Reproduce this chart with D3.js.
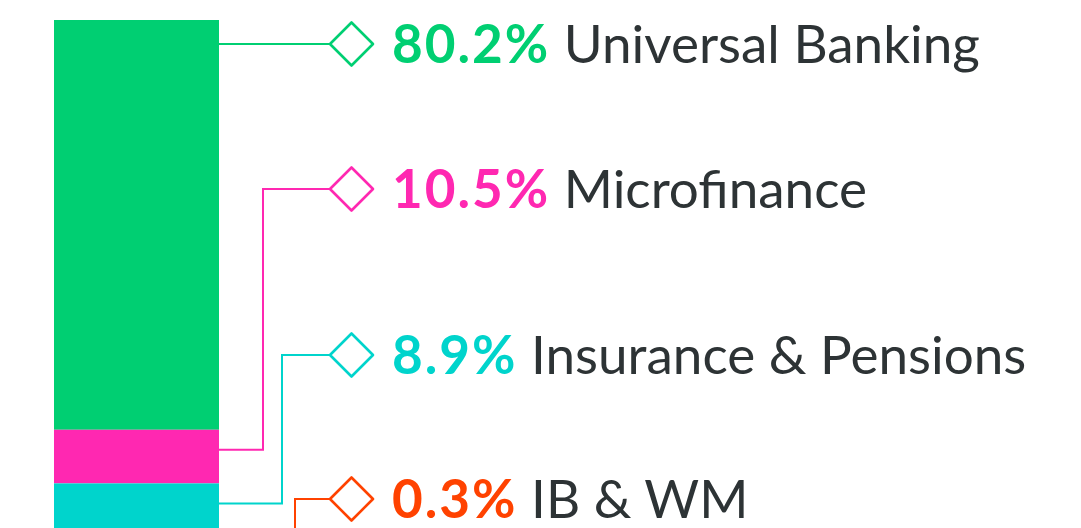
<!DOCTYPE html>
<html>
<head>
<meta charset="utf-8">
<script src="https://cdn.jsdelivr.net/npm/d3@7"></script>
<style>
  html, body { margin: 0; padding: 0; background: #fff; }
  svg { display: block; }
</style>
</head>
<body>
<svg id="chart" width="1081" height="528"></svg>
<script>
// segment data
const segments = ["Universal Banking", "Microfinance", "Insurance & Pensions", "IB & WM"];
const shares = [80.2, 10.5, 8.9, 0.3];

// styles / layout
const palette = ["#00cf72", "#ff28b1", "#00d4cc", "#ff4200"];
const labelY = [44, 189, 355, 499];
const elbowX = [null, 263, 282, 295];

const width = 1081;
const height = 528;
const bar = { x: 54, w: 165, top: 20, h: 510.4 };
const diamondX = 351.5;
const diamondR = 21.5;
const textX = 392;

const svg = d3.select("#chart");

const y = d3.scaleLinear()
  .domain([0, d3.sum(shares)])
  .range([bar.top, bar.top + bar.h]);

let acc = 0;
const data = shares.map((v, i) => {
  const d = { name: segments[i], value: v, y0: acc, y1: acc + v, i: i };
  acc += v;
  return d;
});

// stacked bar
svg.append("g")
  .selectAll("rect")
  .data(data)
  .join("rect")
  .attr("x", bar.x)
  .attr("width", bar.w)
  .attr("y", (d) => y(d.y0))
  .attr("height", (d) => y(d.y1) - y(d.y0))
  .attr("fill", (d) => palette[d.i]);

// connectors
const barRight = bar.x + bar.w;
const connectors = svg.append("g")
  .attr("fill", "none")
  .attr("stroke-width", 2);

data.forEach((d) => {
  const top = y(d.y0), bot = y(d.y1);
  const ly = labelY[d.i];
  let anchor = Math.min(Math.max(ly, top + 20), bot);
  let path;
  if (elbowX[d.i] === null) {
    path = d3.line()([[barRight, ly], [diamondX - diamondR, ly]]);
  } else {
    const ex = elbowX[d.i];
    path = d3.line()([[barRight, anchor], [ex, anchor], [ex, ly], [diamondX - diamondR, ly]]);
  }
  connectors.append("path")
    .attr("d", path)
    .attr("stroke", palette[d.i]);
});

// diamonds
svg.append("g")
  .selectAll("path")
  .data(data)
  .join("path")
  .attr("d", (d) => {
    const cx = diamondX, cy = labelY[d.i], r = diamondR;
    return `M${cx - r},${cy}L${cx},${cy - r}L${cx + r},${cy}L${cx},${cy + r}Z`;
  })
  .attr("fill", "#fff")
  .attr("stroke", (d) => palette[d.i])
  .attr("stroke-width", 2.6)
  .attr("stroke-linejoin", "round");

// labels
const labels = svg.append("g")
  .selectAll("text")
  .data(data)
  .join("text")
  .attr("x", textX)
  .attr("y", (d) => labelY[d.i] + 18.5)
  .attr("font-family", "Lato, sans-serif")
  .attr("font-size", 53);

labels.append("tspan")
  .attr("font-weight", "bold")
  .attr("letter-spacing", 2)
  .attr("fill", (d) => palette[d.i])
  .text((d) => d3.format(".1f")(d.value) + "%");

labels.append("tspan")
  .attr("fill", "#2d3335")
  .attr("letter-spacing", 0)
  .text((d) => " " + d.name);
</script>
</body>
</html>
